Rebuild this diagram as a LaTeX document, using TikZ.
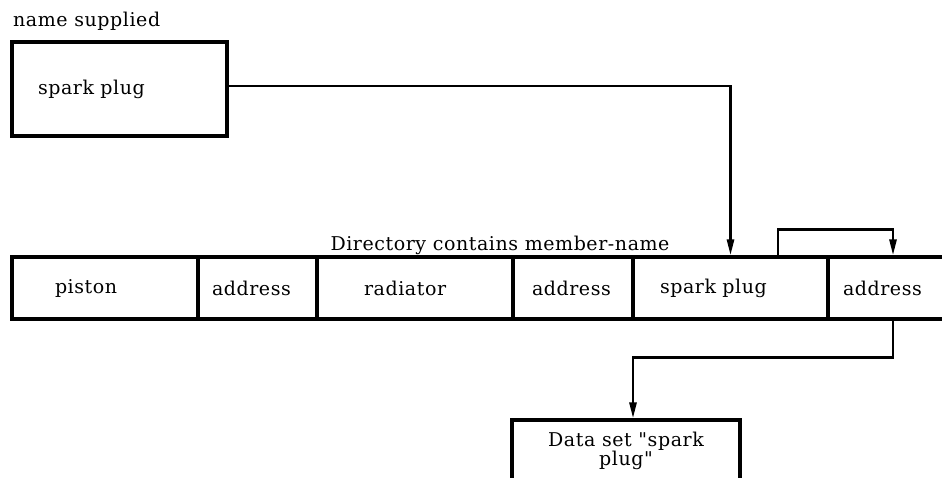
\documentclass[tikz,border=0pt]{standalone}
\usepackage{fontspec}
\setmainfont{DejaVu Serif}[Ligatures=TeXOff, LetterSpace=3]
\usetikzlibrary{arrows.meta}
\begin{document}
\begin{tikzpicture}[x=1pt,y=-1pt,
  txt/.style={font=\fontsize{19}{18}\selectfont},
  box/.style={draw, line width=3.2pt, inner ysep=0pt, txt, align=left},
  cell/.style={box, minimum height=62pt},
  conn/.style={line width=2.6pt, -{Triangle[length=16pt,width=7pt]}},
  lbl/.style={inner sep=0pt, txt}]
\useasboundingbox (0,0) rectangle (942,477);

\node[lbl, anchor=base west] (name) at (13,26) {name supplied};
\node[box, minimum height=94pt, text width=163pt, inner xsep=26pt] (top) at (119.5,89) {spark plug};

\node[lbl, anchor=base] (dir) at (500,250) {Directory contains member-name};

\node[cell, text width=100pt, inner xsep=43pt] (c1) at (105,288) {piston};
\node[cell, text width=91pt, inner xsep=14pt] (c2) at (257.5,288) {address};
\node[cell, text width=102pt, inner xsep=47pt] (c3) at (415,288) {radiator};
\node[cell, text width=82pt, inner xsep=19pt] (c4) at (573,288) {address};
\node[cell, text width=141pt, inner xsep=27pt] (c5) at (730.5,288) {spark plug};
\node[cell, text width=100pt, inner xsep=15pt] (c6) at (893,288) {address};

\node[box, align=center, minimum height=62pt, minimum width=228pt, inner xsep=0pt] (data) at (626,451) {Data set "spark\\plug"};

\draw[conn] ([yshift=3pt]top.east) -| (c5.north);
\draw[conn] ([xshift=47.5pt]c5.north) -- ++(0,-26) -| (c6.north);
\draw[conn] (c6.south) -- ++(0,37) -| ([xshift=7pt]data.north);
\end{tikzpicture}
\end{document}
